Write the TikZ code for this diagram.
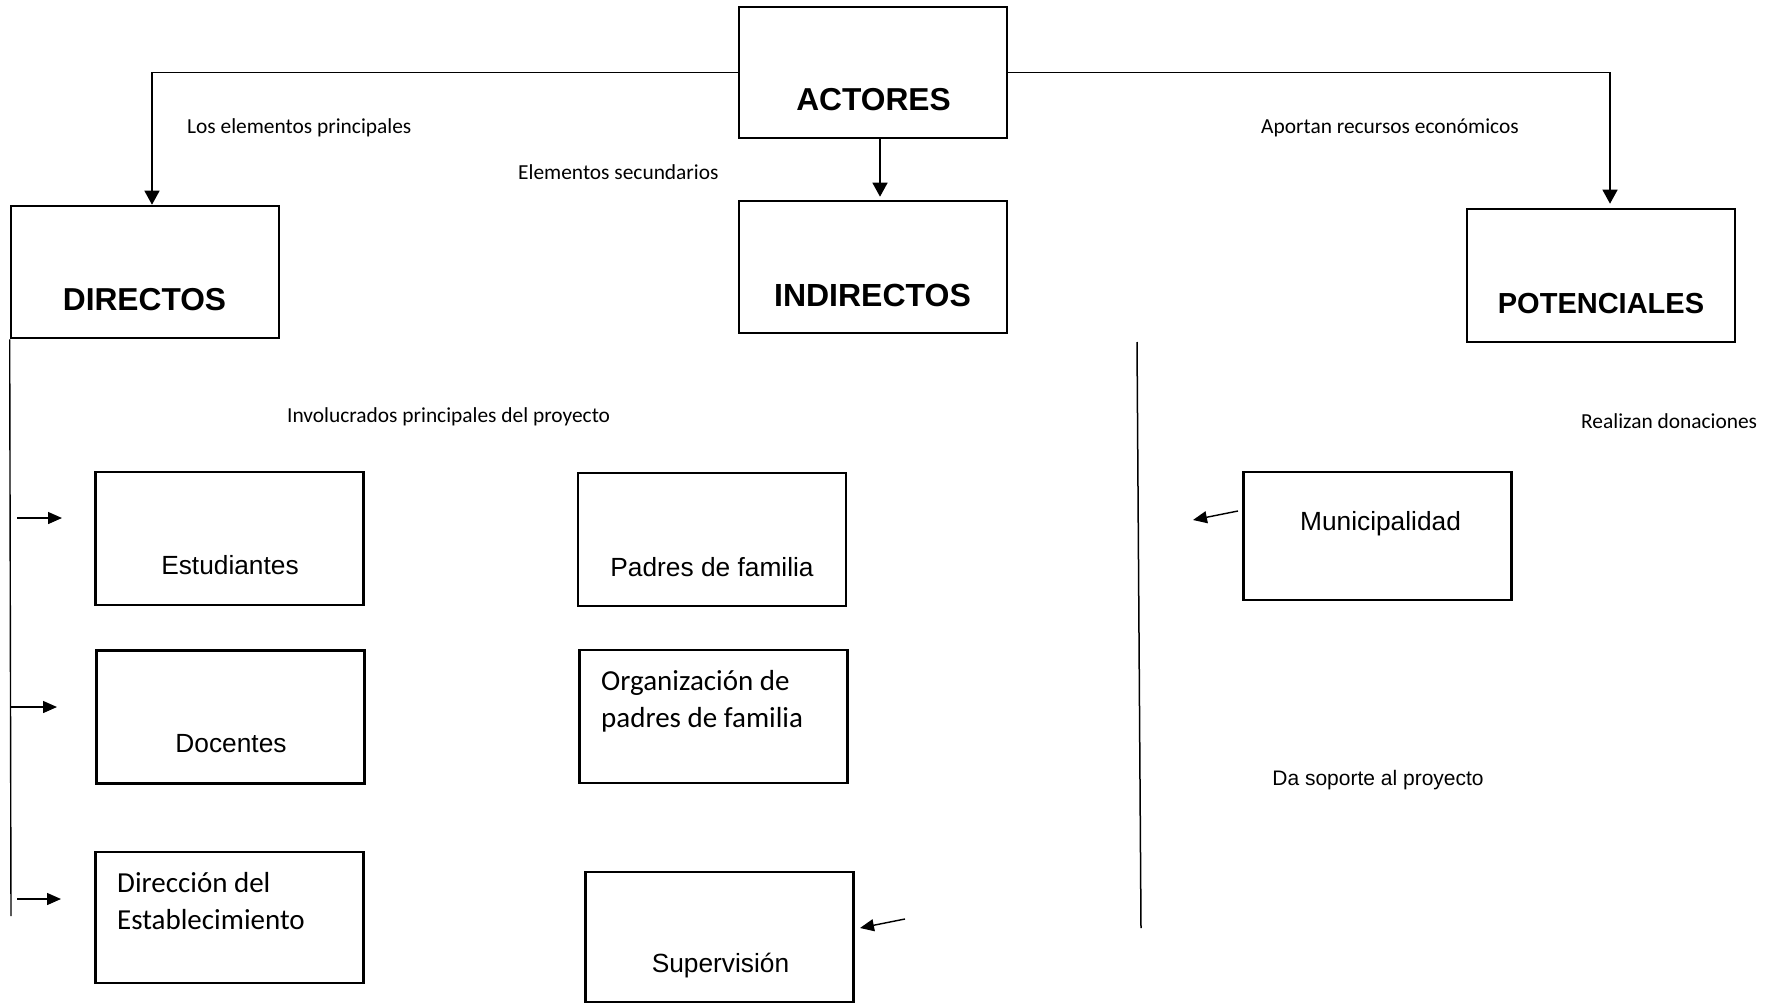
\documentclass[tikz,border=0pt]{standalone}
\usepackage{fontspec}
\newfontfamily\arial{Liberation Sans}
\newfontfamily\calibri{Carlito}
\usetikzlibrary{arrows.meta}
\tikzset{
  box/.style={draw=black, line width=2.6pt, minimum width=268pt, minimum height=131pt, inner sep=0pt},
  head/.style={anchor=base, inner sep=0pt, font=\arial\bfseries\fontsize{31.7}{37}\selectfont},
  btext/.style={anchor=base, inner sep=0pt, font=\arial\fontsize{26.3}{32}\selectfont},
  ctext/.style={anchor=base west, inner sep=0pt, align=left, font=\calibri\fontsize{29}{37}\selectfont},
  small/.style={anchor=base west, inner sep=0pt, font=\calibri\fontsize{21.4}{25}\selectfont},
  arr/.style={line width=1.4pt, -{Triangle[length=14pt,width=15pt]}},
  sarr/.style={line width=1.4pt, -{Triangle[length=14pt,width=12pt]}},
  plain/.style={line width=1.4pt}
}
\begin{document}
\begin{tikzpicture}[x=1pt,y=-1pt]
\fill[white] (0,0) rectangle (1779,1003);
\useasboundingbox (0,0) rectangle (1779,1003);

% boxes
\node[box] (actores) at (873,72.5) {};
\node[box, minimum height=132pt] (directos) at (145,272) {};
\node[box, minimum height=132pt] (indirectos) at (873,267) {};
\node[box, minimum height=133pt] (potenciales) at (1601,275.5) {};
\node[box, minimum height=133pt] (estudiantes) at (229.5,538.5) {};
\node[box, minimum height=133pt] (docentes) at (230.5,717) {};
\node[box] (direccion) at (229.5,917.5) {};
\node[box, minimum height=133pt] (padres) at (712,539.5) {};
\node[box, minimum height=133pt] (organizacion) at (713.5,716.5) {};
\node[box, minimum height=130pt] (supervision) at (719.5,937) {};
\node[box, minimum height=128pt] (municipalidad) at (1377.5,536) {};

% box texts
\node[head] (tactores) at (873.5,111) {ACTORES};
\node[head] (tdirectos) at (144.5,310) {DIRECTOS};
\node[head, font=\arial\bfseries\fontsize{32}{37}\selectfont] (tindirectos) at (872.5,306) {INDIRECTOS};
\node[head, font=\arial\bfseries\fontsize{29}{35}\selectfont] (tpotenciales) at (1601,313) {POTENCIALES};
\node[btext] (testudiantes) at (230,574) {Estudiantes};
\node[btext] (tdocentes) at (231,752) {Docentes};
\node[ctext] (tdireccion) at (117,929) {Dirección del\\Establecimiento};
\node[btext] (tpadres) at (712,576) {Padres de familia};
\node[ctext] (torganizacion) at (601,727) {Organización de\\padres de familia};
\node[btext] (tsupervision) at (720.5,972) {Supervisión};
\node[btext] (tmunicipalidad) at (1380.5,530) {Municipalidad};

% labels
\node[small] (l1) at (187,134) {Los elementos principales};
\node[small] (l2) at (518,180) {Elementos secundarios};
\node[small] (l3) at (1261,134) {Aportan recursos económicos};
\node[small] (l4) at (287,422) {Involucrados principales del proyecto};
\node[small] (l5) at (1581,428) {Realizan donaciones};
\node[anchor=base, inner sep=0pt, font=\arial\fontsize{21}{25}\selectfont] (l6) at (1378,785) {Da soporte al proyecto};

% main connectors
\draw[arr] (actores.west) -| ([xshift=7pt]directos.north);
\draw[arr, shorten >=3pt] ([xshift=7pt]actores.south) -- ([xshift=7pt]indirectos.north);
\draw[arr, shorten >=4pt] (actores.east) -| ([xshift=9pt]potenciales.north);

% trunk of DIRECTOS
\coordinate (dend) at (11,916);
\draw[plain] (directos.south west) -- (dend);

% side arrows
\coordinate (a1s) at (17,518); \coordinate (a1e) at (62,518);
\coordinate (a2s) at (11,707); \coordinate (a2e) at (57,707);
\coordinate (a3s) at (17,899); \coordinate (a3e) at (61,899);
\draw[sarr] (a1s) -- (a1e);
\draw[sarr] (a2s) -- (a2e);
\draw[sarr] (a3s) -- (a3e);

% supervision arrow
\coordinate (sps) at (905,919); \coordinate (spe) at (860,928);
\draw[sarr] (sps) -- (spe);

% municipalidad arrow
\coordinate (mus) at (1238,511); \coordinate (mue) at (1193,520);
\draw[sarr] (mus) -- (mue);

% vertical separator
\coordinate (vt) at (1137,342); \coordinate (vb) at (1141,928);
\draw[line width=1.5pt] (vt) -- (vb);
\end{tikzpicture}
\end{document}
